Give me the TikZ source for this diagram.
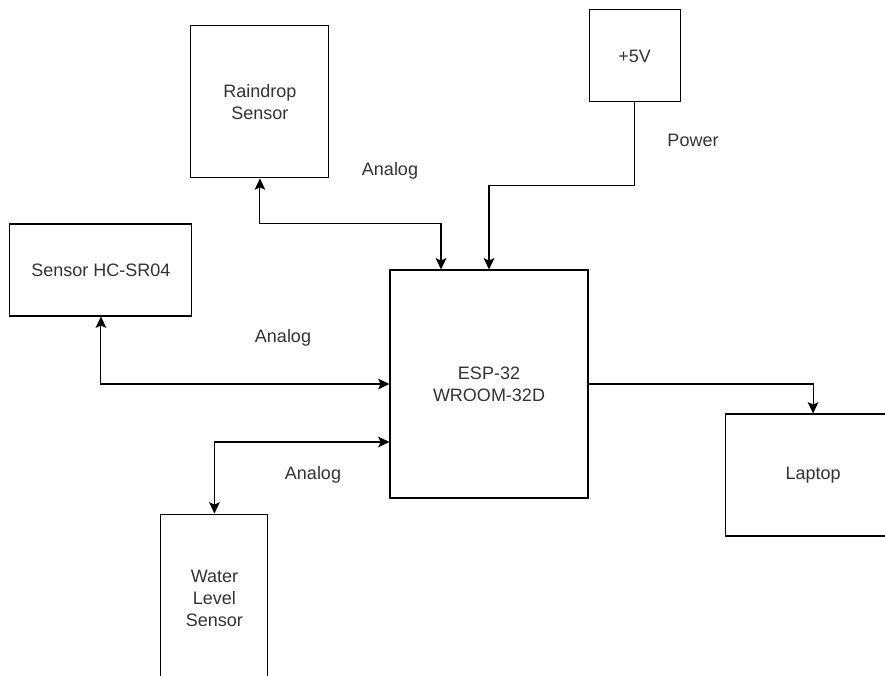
\documentclass[tikz,border=0pt]{standalone}
\usepackage{fontspec}
\setmainfont{Liberation Sans}
\usetikzlibrary{positioning, calc, arrows.meta}

\begin{document}
\begin{tikzpicture}[
  x=0.75pt, y=-0.75pt,
  >={Stealth[length=8.5pt, width=8pt, inset=1.8pt]}, line width=0.8pt,
  block/.style = {draw, rectangle, inner sep=0pt, align=center,
                  text=black!80, font=\fontsize{13.5}{16.5}\selectfont},
  lbl/.style   = {text=black!80, inner sep=0pt, font=\fontsize{13.5}{16.5}\selectfont},
]
  \useasboundingbox (0,0) rectangle (885,675);
  \clip (0,0) rectangle (885,675);

  \node[block, minimum width=148.5pt, minimum height=171pt] (esp) at (489,384) {ESP-32\\WROOM-32D};
  \node[block, minimum width=103.5pt, minimum height=114pt,
        above left=68.25pt and 45pt of esp]                    (rain)  {Raindrop\\Sensor};
  \node[block, minimum width=68.25pt, minimum height=69pt,
        above right=125.25pt and 0pt of esp]                   (pwr)   {+5V};
  \node[block, minimum width=136.5pt, minimum height=69pt,
        above left=34.5pt and 147.75pt of esp.north west,
        anchor=north east]                                     (hcsr)  {Sensor HC-SR04};
  \node[block, minimum width=132pt, minimum height=91.5pt,
        below right=108pt and 102pt of esp.north east,
        anchor=north west]                                     (lap)   {Laptop};
  \node[block, minimum width=80.25pt, minimum height=126pt,
        below left=11.25pt and 90.75pt of esp.south west,
        anchor=north east]                                     (water) {Water\\Level\\Sensor};

  \node[lbl] (lblrain)  at (390,171) {Analog};
  \node[lbl] (lblpwr)   at (693,140) {Power};
  \node[lbl] (lblhcsr)  at (283,338) {Analog};
  \node[lbl] (lblwater) at (313,475) {Analog};

  \coordinate (espn) at ($(esp.north)+(-48,0)$);
  \coordinate (espw) at ($(esp.west)+(0,58)$);

  \draw[<->] (rain.south) -- ++(0,45) -| (espn);
  \draw[->]  (pwr.south)  -- ++(0,83) -| (esp.north);
  \draw[<->] (hcsr.south) |- (esp.west);
  \draw[<->] (espw) -| (water.north);
  \draw[->]  (esp.east)   -| (lap.north);
\end{tikzpicture}
\end{document}
